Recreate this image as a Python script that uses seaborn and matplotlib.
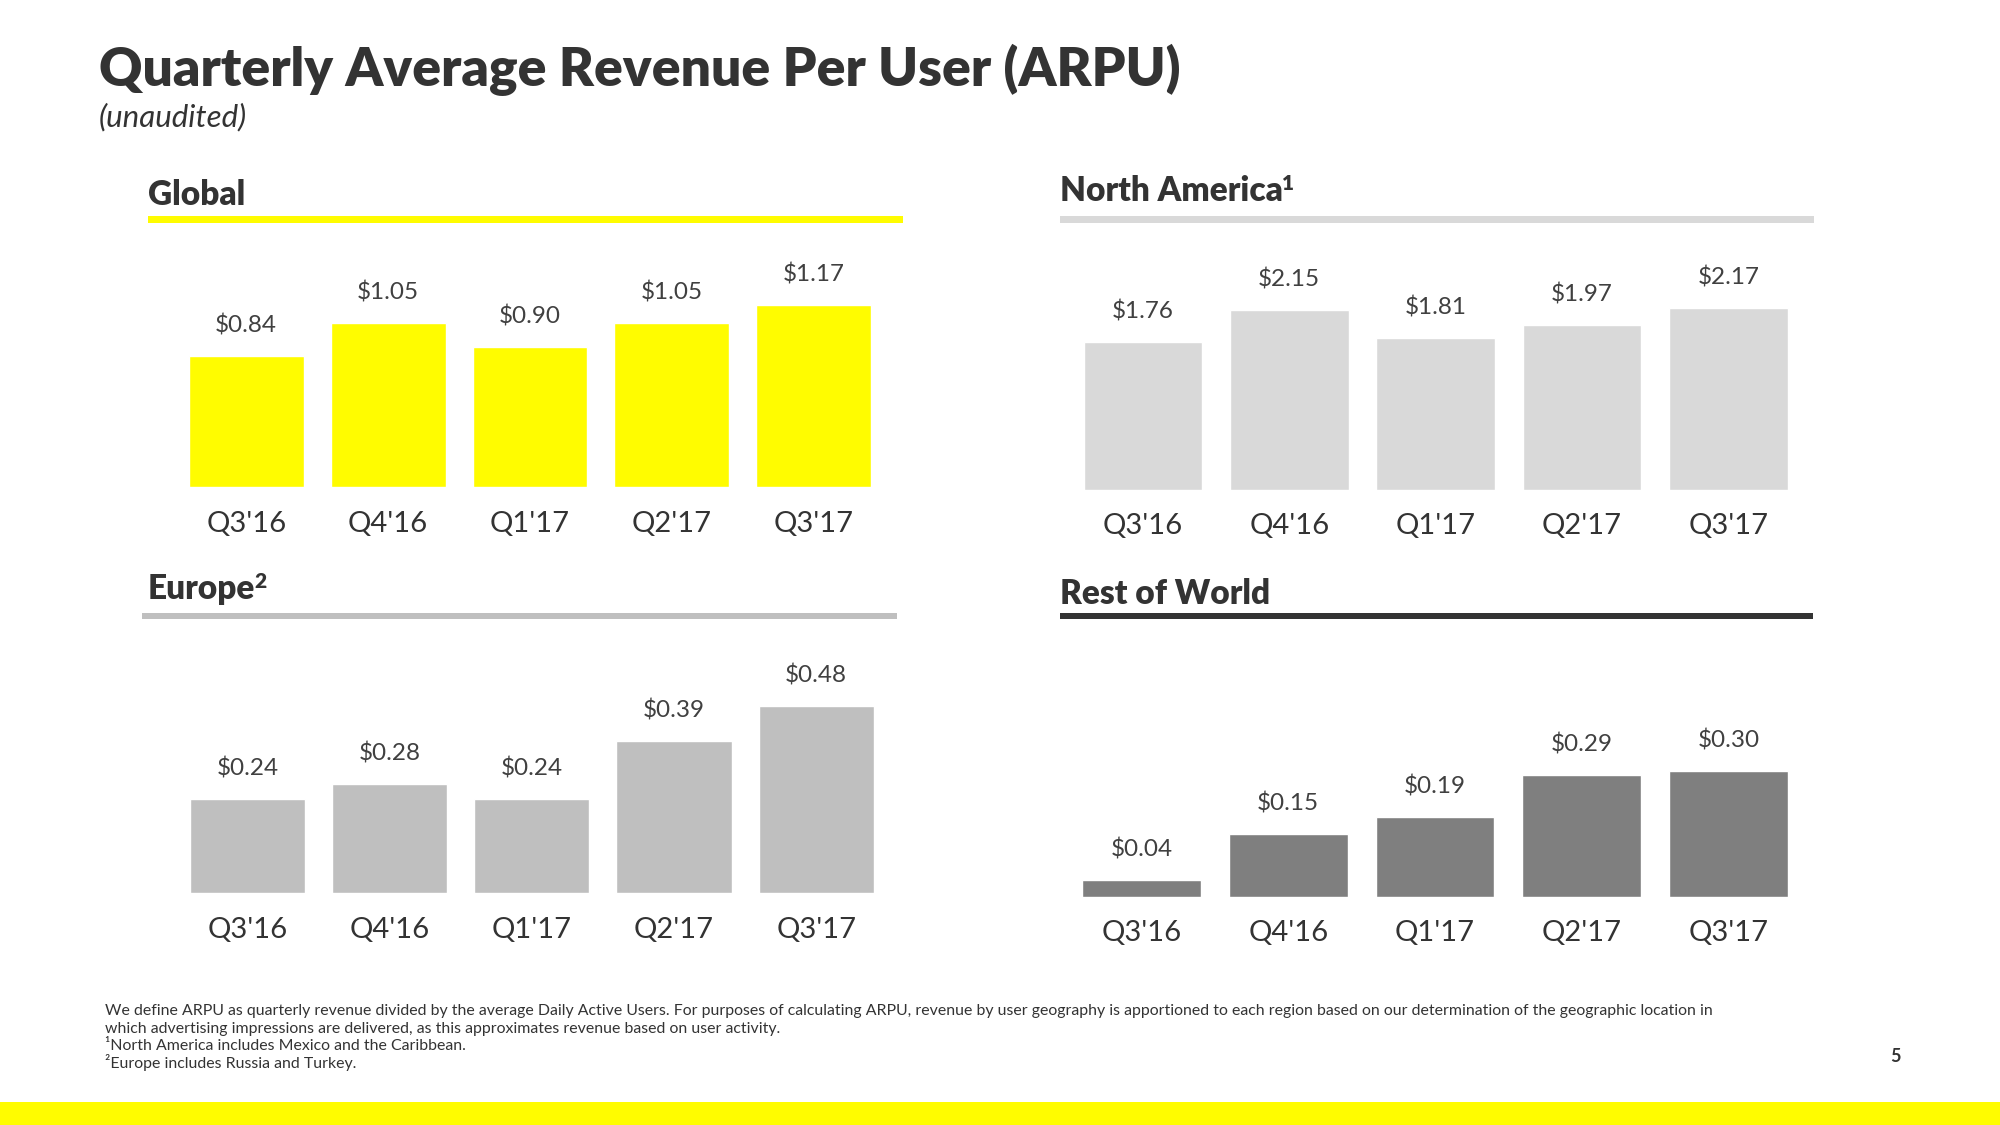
import matplotlib
matplotlib.use("Agg")
import matplotlib.pyplot as plt
import seaborn as sns
from matplotlib.patches import Rectangle

quarters = ["Q3'16", "Q4'16", "Q1'17", "Q2'17", "Q3'17"]
global_arpu = [0.84, 1.05, 0.90, 1.05, 1.17]
na_arpu = [1.76, 2.15, 1.81, 1.97, 2.17]
europe_arpu = [0.24, 0.28, 0.24, 0.39, 0.48]
row_arpu = [0.04, 0.15, 0.19, 0.29, 0.30]

sns.set_theme(style="white")
plt.rcParams['font.family'] = ['Lato', 'DejaVu Sans']

W, H = 2000, 1125
fig = plt.figure(figsize=(20, 11.25), dpi=100)
fig.patch.set_facecolor("white")

YELLOW = "#FFFC00"
DARK = "#333333"


def fx(x):
    return x / W


def fy(y):
    return 1 - y / H


def panel(vals, color, center0, spacing, bottom, scale, ymax):
    left = center0 - spacing / 2
    height = ymax * scale
    ax = fig.add_axes([fx(left), fy(bottom), 5 * spacing / W, height / H])
    sns.barplot(x=quarters, y=vals, color=color, width=0.81, saturation=1, ax=ax)
    ax.set_xlim(-0.5, 4.5)
    ax.set_ylim(0, ymax)
    for s in ax.spines.values():
        s.set_visible(False)
    ax.set_yticks([])
    ax.set_xlabel("")
    ax.set_ylabel("")
    ax.tick_params(axis="x", length=0, pad=17, labelsize=21, labelcolor=DARK)
    ax.set_facecolor("none")
    for i, v in enumerate(vals):
        ax.annotate(f"${v:.2f}", (i, v), xytext=(0, 22), textcoords="offset points",
                    ha="center", va="center", fontsize=17.5, color="#404040")
    return ax


def header(text, sup, x, y, x0, x1, ly, color):
    t = fig.text(fx(x), fy(y), text, ha="left", va="center", fontsize=24,
                 fontweight="heavy", color=DARK)
    if sup:
        fig.canvas.draw()
        bb = t.get_window_extent()
        fig.text((bb.x1 - 1) / W, fy(y - 8), sup, ha="left", va="center", fontsize=15,
                 fontweight="heavy", color=DARK)
    fig.add_artist(Rectangle((fx(x0), fy(ly + 3.2)), (x1 - x0) / W, 6.4 / H,
                             transform=fig.transFigure, color=color, lw=0))


# title
fig.text(fx(99), fy(70), "Quarterly Average Revenue Per User (ARPU)", ha="left", va="center",
         fontsize=38.5, fontweight="heavy", color=DARK)
fig.text(fx(99), fy(117), "(unaudited)", ha="left", va="center", fontsize=22.5,
         style="italic", color=DARK)

header("Global", "", 148, 195, 148, 903, 219.5, YELLOW)
header("Europe", "2", 148, 589, 141.6, 896.7, 616, "#BFBFBF")
header("North America", "1", 1060, 191, 1060, 1814, 219.5, "#D9D9D9")
header("Rest of World", "", 1060, 594, 1060, 1812.5, 616, DARK)

panel(global_arpu, YELLOW, 246.2, 141.9, 487.2, 156, 1.5)
panel(europe_arpu, "#BFBFBF", 247.4, 142.2, 892.9, 390, 0.6)
panel(na_arpu, "#D9D9D9", 1142.9, 146.4, 489.8, 83.7, 2.8)
panel(row_arpu, "#7F7F7F", 1141.6, 146.7, 896.7, 420, 0.55)

notes = [
    "We define ARPU as quarterly revenue divided by the average Daily Active Users. For purposes of calculating ARPU, revenue by user geography is apportioned to each region based on our determination of the geographic location in",
    "which advertising impressions are delivered, as this approximates revenue based on user activity.",
    "\u00b9North America includes Mexico and the Caribbean.",
    "\u00b2Europe includes Russia and Turkey.",
]
for i, line in enumerate(notes):
    fig.text(fx(104.6), fy(1011.5 + i * 17), line, ha="left", va="center", fontsize=11.4, color=DARK)

fig.text(fx(1895), fy(1056), "5", ha="center", va="center", fontsize=13, fontweight="bold", color=DARK)

fig.add_artist(Rectangle((0, 0), 1, 23 / H, transform=fig.transFigure, color=YELLOW, lw=0))

fig.savefig("out.png", dpi=100)
